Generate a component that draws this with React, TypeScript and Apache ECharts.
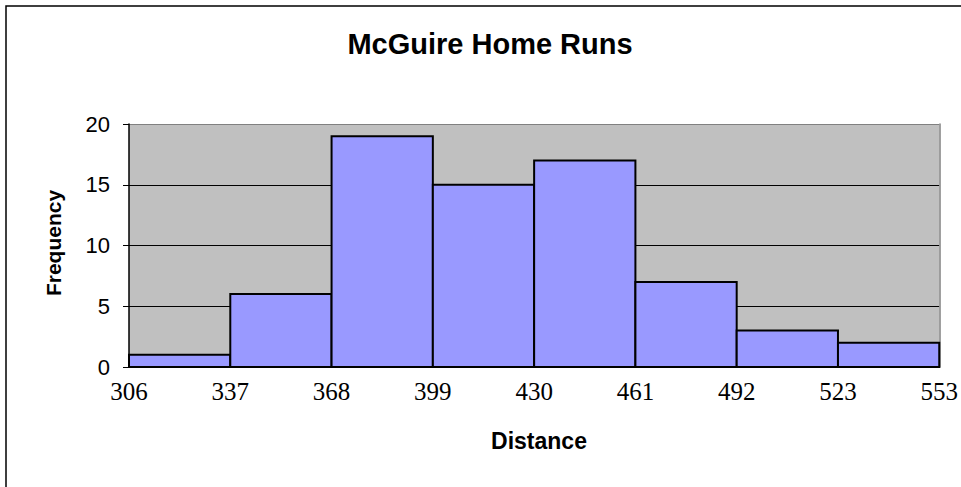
import React, { useEffect, useRef } from "react";
import * as echarts from "echarts";

const binEdges = ["306", "337", "368", "399", "430", "461", "492", "523", "553"];
const frequencies = [1, 6, 19, 15, 17, 7, 3, 2];
const yTicks = [0, 5, 10, 15, 20];

const sans = "'Liberation Sans', Arial, sans-serif";
const serif = "'Liberation Serif', 'Times New Roman', serif";

export default function App() {
  const ref = useRef<HTMLDivElement>(null);
  useEffect(() => {
    document.body.style.margin = "0";
    const chart = echarts.init(ref.current!, null, { renderer: "svg" });
    const data = frequencies.map((v, i) => [i, v]);
    chart.setOption({
      animation: false,
      backgroundColor: "#ffffff",
      grid: {
        left: 129,
        right: 12,
        top: 124,
        bottom: 120,
        show: true,
        backgroundColor: "#c0c0c0",
        borderWidth: 0,
      },
      xAxis: {
        type: "value",
        min: 0,
        max: binEdges.length - 1,
        interval: 1,
        axisLine: { show: true, lineStyle: { color: "#000", width: 1.5 } },
        axisTick: { show: false },
        splitLine: { show: false },
        axisLabel: {
          formatter: (v: number) => binEdges[Math.round(v)] ?? "",
          fontFamily: serif,
          fontSize: 25,
          color: "#000",
          margin: 12,
          showMinLabel: true,
          showMaxLabel: true,
        },
      },
      yAxis: [
        {
          type: "value",
          min: yTicks[0],
          max: yTicks[yTicks.length - 1],
          interval: 5,
          axisLine: { show: true, lineStyle: { color: "#000", width: 1.5 } },
          axisTick: { show: true, inside: false, length: 6, lineStyle: { color: "#000" } },
          axisLabel: { fontFamily: sans, fontSize: 22, color: "#000", margin: 19 },
          splitLine: {
            show: true,
            lineStyle: { color: ["#000", "#000", "#000", "#000", "#808080"], width: 1 },
          },
        },
        {
          type: "value",
          position: "right",
          min: 0,
          max: 20,
          interval: 5,
          axisLine: { show: true, lineStyle: { color: "#808080", width: 1.5 } },
          axisTick: { show: false },
          axisLabel: { show: false },
          splitLine: { show: false },
        },
      ],
      series: [
        {
          type: "custom",
          data,
          renderItem: (params: any, api: any) => {
            const i = api.value(0);
            const v = api.value(1);
            const p1 = api.coord([i, v]);
            const p2 = api.coord([i + 1, 0]);
            return {
              type: "rect",
              shape: { x: p1[0], y: p1[1], width: p2[0] - p1[0], height: p2[1] - p1[1] },
              style: { fill: "#9999ff", stroke: "#000", lineWidth: 2 },
            };
          },
          encode: { x: 0, y: 1 },
        },
      ],
      graphic: [
        {
          type: "rect",
          shape: { x: 6, y: 6, width: 1000, height: 1000 },
          style: { fill: "none", stroke: "#000", lineWidth: 1.5 },
          z: 100,
        },
        {
          type: "text",
          x: 490,
          y: 44,
          style: {
            text: "McGuire Home Runs",
            fontFamily: sans,
            fontSize: 29,
            fontWeight: "bold",
            fill: "#000",
            textAlign: "center",
            textVerticalAlign: "middle",
          },
        },
        {
          type: "text",
          x: 53,
          y: 243,
          rotation: Math.PI / 2,
          style: {
            text: "Frequency",
            fontFamily: sans,
            fontSize: 21,
            fontWeight: "bold",
            fill: "#000",
            textAlign: "center",
            textVerticalAlign: "middle",
          },
        },
        {
          type: "text",
          x: 539,
          y: 441,
          style: {
            text: "Distance",
            fontFamily: sans,
            fontSize: 23,
            fontWeight: "bold",
            fill: "#000",
            textAlign: "center",
            textVerticalAlign: "middle",
          },
        },
      ],
    });
    return () => chart.dispose();
  }, []);
  return <div ref={ref} style={{ width: 961, height: 487 }} />;
}
